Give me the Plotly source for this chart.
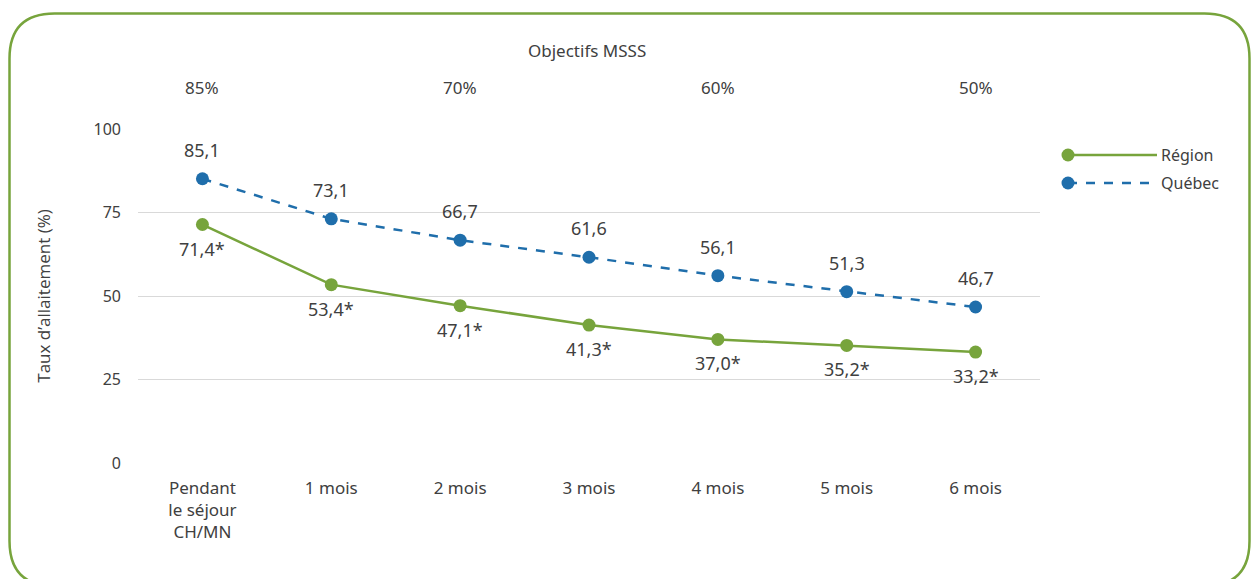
import plotly.graph_objects as go

categories = ["Pendant<br>le séjour<br>CH/MN", "1 mois", "2 mois", "3 mois", "4 mois", "5 mois", "6 mois"]
region = [71.4, 53.4, 47.1, 41.3, 37.0, 35.2, 33.2]
quebec = [85.1, 73.1, 66.7, 61.6, 56.1, 51.3, 46.7]
objectif_idx = [0, 2, 4, 6]
objectif_labels = ["85%", "70%", "60%", "50%"]
y_ticks = [0, 25, 50, 75, 100]

GREEN = "#77a43c"
BLUE = "#1f6eab"
TEXT = "#404040"
FONT = "Noto Sans"

W, H = 1252, 579
L, R, T, B = 138, 1040, 129, 463

def px(x):
    return (x - L) / (R - L)

def py(y):
    return (B - y) / (B - T)

def fmt(v):
    return f"{v:.1f}".replace(".", ",")

xs = list(range(len(categories)))

fig = go.Figure()
fig.add_trace(go.Scatter(
    x=xs, y=region, mode="lines+markers", name="Région",
    line=dict(color=GREEN, width=2.5),
    marker=dict(color=GREEN, size=13),
    showlegend=False, cliponaxis=False,
))
fig.add_trace(go.Scatter(
    x=xs, y=quebec, mode="lines+markers", name="Québec",
    line=dict(color=BLUE, width=2.5, dash="dash"),
    marker=dict(color=BLUE, size=13),
    showlegend=False, cliponaxis=False,
))

annotations = []
for i, v in zip(xs, quebec):
    annotations.append(dict(x=i, y=v, xref="x", yref="y", text=fmt(v), showarrow=False,
                            yanchor="middle", yshift=29,
                            font=dict(family=FONT, size=18, color=TEXT)))
for i, v in zip(xs, region):
    annotations.append(dict(x=i, y=v, xref="x", yref="y", text=fmt(v) + "*", showarrow=False,
                            yanchor="middle", yshift=-24,
                            font=dict(family=FONT, size=18, color=TEXT)))

annotations.append(dict(x=px(587), y=py(50), xref="paper", yref="paper", text="Objectifs MSSS",
                        showarrow=False, yanchor="middle",
                        font=dict(family=FONT, size=17, color=TEXT)))
for i, lab in zip(objectif_idx, objectif_labels):
    annotations.append(dict(x=i, y=py(87), xref="x", yref="paper", text=lab, showarrow=False,
                            yanchor="middle", font=dict(family=FONT, size=17, color=TEXT)))

# manual legend
shapes = []
for name, color, dash, yy in [("Région", GREEN, "solid", 155), ("Québec", BLUE, "dash", 183)]:
    shapes.append(dict(type="line", xref="paper", yref="paper", x0=px(1068), x1=px(1157),
                       y0=py(yy), y1=py(yy), line=dict(color=color, width=2.5, dash=dash)))
    shapes.append(dict(type="circle", xref="paper", yref="paper", x0=px(1061.5), x1=px(1074.5),
                       y0=py(yy + 6.5), y1=py(yy - 6.5), fillcolor=color, line=dict(color=color, width=0)))
    annotations.append(dict(x=px(1159), y=py(yy), xref="paper", yref="paper", text=name,
                            showarrow=False, xanchor="left", yanchor="middle",
                            font=dict(family=FONT, size=16, color=TEXT)))

# rounded frame
x0, y0, x1, y1, r = 9.5, 13.5, 1249.5, 586, 45
path = (f"M {px(x0+r)},{py(y0)} L {px(x1-r)},{py(y0)} Q {px(x1)},{py(y0)} {px(x1)},{py(y0+r)} "
        f"L {px(x1)},{py(y1-r)} Q {px(x1)},{py(y1)} {px(x1-r)},{py(y1)} "
        f"L {px(x0+r)},{py(y1)} Q {px(x0)},{py(y1)} {px(x0)},{py(y1-r)} "
        f"L {px(x0)},{py(y0+r)} Q {px(x0)},{py(y0)} {px(x0+r)},{py(y0)} Z")
shapes.append(dict(type="path", xref="paper", yref="paper", path=path,
                   line=dict(color=GREEN, width=2.5), layer="below"))

fig.update_layout(
    width=W, height=H,
    margin=dict(l=L, r=W - R, t=T, b=H - B),
    plot_bgcolor="white", paper_bgcolor="white",
    annotations=annotations, shapes=shapes,
    font=dict(family=FONT, color=TEXT),
    xaxis=dict(range=[-0.5, 6.5], tickmode="array", tickvals=xs, ticktext=categories,
               showgrid=False, zeroline=False, showline=False, ticks="",
               ticklabelstandoff=13,
               tickfont=dict(family=FONT, size=17, color=TEXT)),
    yaxis=dict(range=[0, 100], tickmode="array", tickvals=y_ticks,
               showgrid=True, gridcolor="#d9d9d9", gridwidth=1, zeroline=False,
               showline=False, ticks="", ticklabelstandoff=16,
               tickfont=dict(family=FONT, size=16, color=TEXT),
               title=dict(text="Taux d’allaitement (%)", standoff=38,
                          font=dict(family="Open Sans", size=17, color=TEXT))),
)

fig.write_html("out.html", config={"displayModeBar": False},
               post_script="document.body.style.margin='0';document.body.style.overflow='hidden';")
